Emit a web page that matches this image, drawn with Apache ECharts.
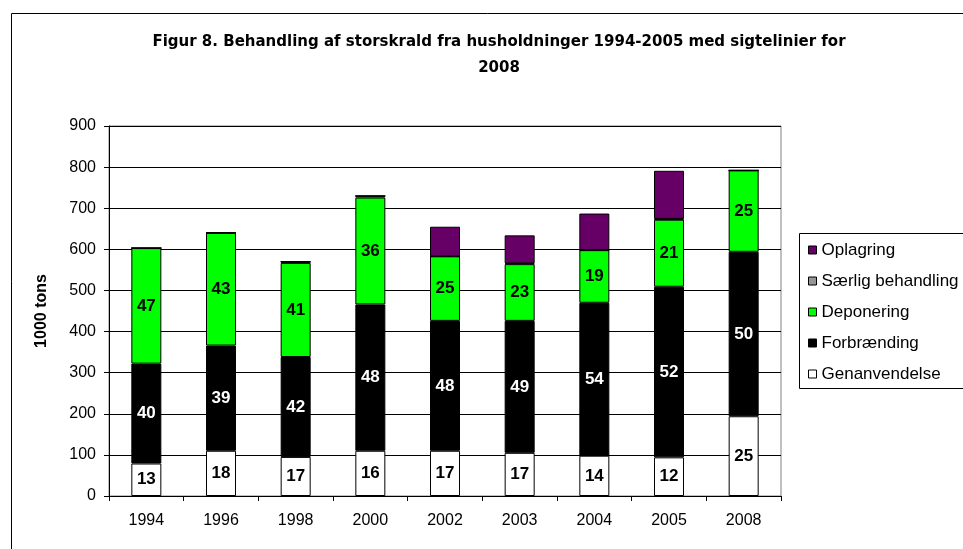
<!DOCTYPE html>
<html>
<head>
<meta charset="utf-8">
<script src="https://cdn.jsdelivr.net/npm/echarts@6/dist/echarts.min.js"></script>
<style>
  html, body { margin: 0; padding: 0; background: #fff; }
  #chart { width: 963px; height: 549px; }
</style>
</head>
<body>
<div id="chart"></div>
<script>
// kategorier og værdier (1000 tons)
const years = ['1994', '1996', '1998', '2000', '2002', '2003', '2004', '2005', '2008']
const genanvendelse = [79, 110, 95, 110, 110, 105, 98, 94, 194]
const forbraending = [243, 256, 243, 356, 316, 321, 372, 415, 400]
const deponering = [281, 274, 229, 260, 157, 138, 128, 163, 198]
const saerlig = [0, 0, 3, 4, 0, 2, 0, 2, 0]
const oplagring = [0, 0, 0, 0, 72, 68, 89, 117, 0]
// procent-etiketter i søjlerne
const pctGenanv = [13, 18, 17, 16, 17, 17, 14, 12, 25]
const pctForbr = [40, 39, 42, 48, 48, 49, 54, 52, 50]
const pctDepon = [47, 43, 41, 36, 25, 23, 19, 21, 25]
const yTicks = [0, 100, 200, 300, 400, 500, 600, 700, 800, 900]

const chart = echarts.init(document.getElementById('chart'))

const font = 'Liberation Sans, Arial, sans-serif'

const barSeries = (name, values, color, pct, labelColor) => ({
    name: name,
    type: 'bar',
    stack: 'total',
    barWidth: 30,
    data: values,
    itemStyle: {
        color: color,
        borderColor: '#000',
        borderWidth: 1
    },
    label: {
        show: !!pct,
        position: 'inside',
        fontFamily: font,
        fontWeight: 'bold',
        fontSize: 17,
        color: labelColor,
        formatter: p => pct ? pct[p.dataIndex] : ''
    },
    emphasis: { disabled: true }
})

const option = {
    backgroundColor: '#fff',
    animation: false,
    title: {
        text: 'Figur 8. Behandling af storskrald fra husholdninger 1994-2005 med sigtelinier for\n2008',
        left: 494,
        top: 24,
        textAlign: 'center',
        textStyle: {
            fontFamily: 'DejaVu Sans, sans-serif',
            fontWeight: 'bold',
            fontSize: 15,
            lineHeight: 26,
            color: '#000'
        }
    },
    legend: {
        orient: 'vertical',
        left: 803,
        top: 236,
        itemWidth: 8,
        itemHeight: 8,
        itemGap: 13,
        icon: 'rect',
        data: ['Oplagring', 'Særlig behandling', 'Deponering', 'Forbrænding', 'Genanvendelse'],
        textStyle: { fontFamily: font, fontSize: 17, lineHeight: 18, color: '#000', padding: [0, 0, 0, 0] },
        itemStyle: { borderColor: '#000', borderWidth: 1 }
    },
    graphic: [
        {
            type: 'rect',
            shape: { x: 11.5, y: 13.5, width: 1000, height: 600 },
            style: { fill: 'none', stroke: '#000', lineWidth: 1 },
            silent: true
        },
        {
            type: 'rect',
            shape: { x: 799.5, y: 233.5, width: 200, height: 155 },
            style: { fill: 'none', stroke: '#000', lineWidth: 1 },
            silent: true
        }
    ],
    grid: {
        left: 109,
        right: 182,
        top: 126,
        bottom: 53,
        show: true,
        borderColor: '#808080',
        borderWidth: 1,
        containLabel: false
    },
    xAxis: {
        type: 'category',
        data: years,
        axisLine: { lineStyle: { color: '#000', width: 1 } },
        axisTick: { show: true, alignWithLabel: false, length: 5, lineStyle: { color: '#000' } },
        axisLabel: { fontFamily: font, fontSize: 16, color: '#000', margin: 17 }
    },
    yAxis: {
        type: 'value',
        min: yTicks[0],
        max: yTicks[yTicks.length - 1],
        interval: 100,
        name: '1000 tons',
        nameLocation: 'middle',
        nameGap: 59,
        nameTextStyle: { fontFamily: font, fontWeight: 'bold', fontSize: 16, color: '#000' },
        axisLine: { show: true, lineStyle: { color: '#000', width: 1 } },
        axisTick: { show: true, length: 5, lineStyle: { color: '#000' } },
        axisLabel: { fontFamily: font, fontSize: 16, color: '#000', margin: 13 },
        splitLine: { show: true, lineStyle: { color: '#000', width: 1 } }
    },
    series: [
        barSeries('Genanvendelse', genanvendelse, '#ffffff', pctGenanv, '#000'),
        barSeries('Forbrænding', forbraending, '#000000', pctForbr, '#fff'),
        barSeries('Deponering', deponering, '#00ff00', pctDepon, '#000'),
        barSeries('Særlig behandling', saerlig, '#969696', null, '#000'),
        barSeries('Oplagring', oplagring, '#660066', null, '#fff')
    ]
}

chart.setOption(option)
</script>
</body>
</html>
